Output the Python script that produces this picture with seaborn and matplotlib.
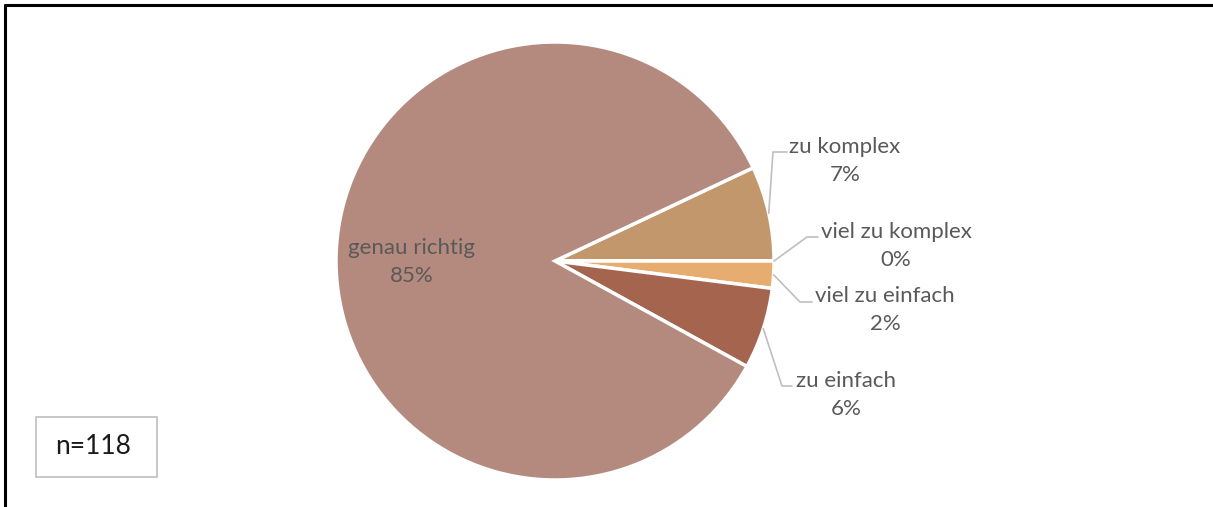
import numpy as np
import matplotlib
matplotlib.use("Agg")
import matplotlib.pyplot as plt
import seaborn as sns
from matplotlib.lines import Line2D
from matplotlib.patches import Rectangle

# data
categories = ["zu komplex", "viel zu komplex", "viel zu einfach", "zu einfach", "genau richtig"]
shares = [7, 0, 2, 6, 85]
colors = ["#C1976B", "#E4A86F", "#E7AC70", "#A5644E", "#B58A7E"]
n_total = 118

sns.set_theme(style="white")
plt.rcParams["font.family"] = ["Lato", "DejaVu Sans"]

W, H = 1213, 507
fig = plt.figure(figsize=(W / 100, H / 100), dpi=100)
ax = fig.add_axes([0, 0, 1, 1])

# pie centre and radius in pixels
cx, cy, R = 555, 261, 219

start = shares[0] / 100 * 360
wedges, _ = ax.pie(shares, colors=colors, startangle=start, counterclock=False,
                   radius=1, center=(0, 0), frame=True,
                   wedgeprops=dict(edgecolor="white", linewidth=2.5))
ax.set_xlim(-cx / R, (W - cx) / R)
ax.set_ylim(-(H - cy) / R, cy / R)
ax.axis("off")


def px(x, y):
    return (x - cx) / R, (cy - y) / R


# label layout: label centre, elbow and end of leader line (pixels)
label_pos = {
    "zu komplex": (845, 161, (773, 152), (787, 152)),
    "viel zu komplex": (896, 246, (807, 237), (818, 237)),
    "viel zu einfach": (885, 310, (800, 302), (812, 302)),
    "zu einfach": (846, 395, (782, 386), (792, 386)),
}
txt_color = "#595959"
lead_color = "#BFBFBF"
fs = 16
ls = 1.5

for w, cat, val in zip(wedges, categories, shares):
    label = f"{cat}\n{val}%"
    if cat == "genau richtig":
        x, y = px(412, 262)
        ax.text(x, y, label, ha="center", va="center", fontsize=fs,
                color=txt_color, linespacing=ls)
        continue
    mid = np.deg2rad((w.theta1 + w.theta2) / 2)
    sx, sy = np.cos(mid), np.sin(mid)
    lx, ly, elbow, end = label_pos[cat]
    ex, ey = px(*elbow)
    fx, fy = px(*end)
    ax.plot([sx, ex, fx], [sy, ey, fy], color=lead_color, lw=1.2)
    x, y = px(lx, ly)
    ax.text(x, y, label, ha="center", va="center", fontsize=fs,
            color=txt_color, linespacing=ls)

# n box
bx0, by0 = px(36, 477)
bx1, by1 = px(157, 417)
ax.add_patch(Rectangle((bx0, by0), bx1 - bx0, by1 - by0, facecolor="white",
                       edgecolor="#BFBFBF", lw=1.2))
tx, ty = px(93, 446)
ax.text(tx, ty, f"n={n_total}", ha="center", va="center",
        fontsize=19, color="#1a1a1a")

# outer frame (top and left)
fig.add_artist(Line2D([5 / W, 1], [1 - 5 / H, 1 - 5 / H], color="black", lw=2.2,
                      transform=fig.transFigure))
fig.add_artist(Line2D([5 / W, 5 / W], [0, 1 - 5 / H], color="black", lw=2.2,
                      transform=fig.transFigure))

fig.savefig("out.png", dpi=100, facecolor="white")
